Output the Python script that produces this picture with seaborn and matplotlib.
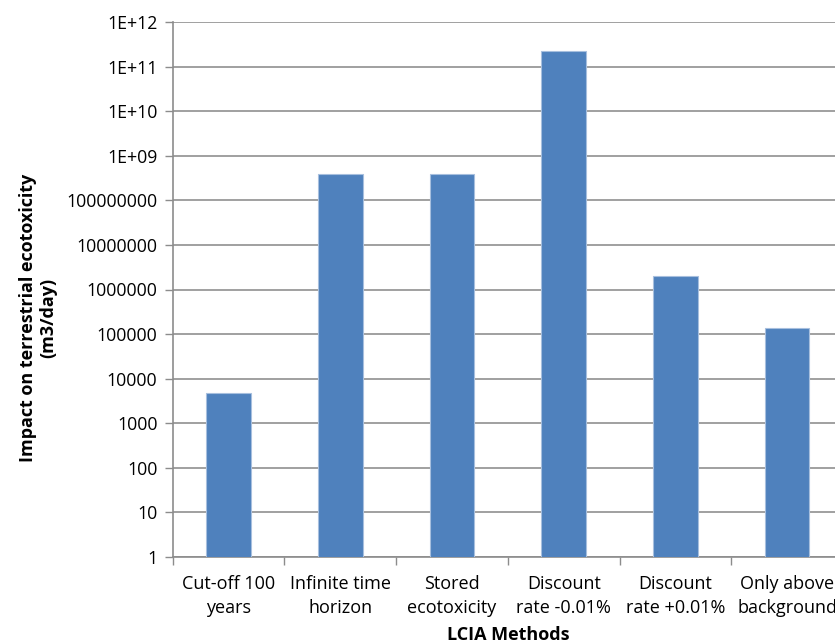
import matplotlib
matplotlib.use("Agg")
import matplotlib.pyplot as plt
import seaborn as sns
import pandas as pd
import numpy as np
from matplotlib.ticker import FixedLocator, FixedFormatter, NullFormatter

categories = ["Cut-off 100\nyears", "Infinite time\nhorizon", "Stored\necotoxicity",
              "Discount\nrate -0.01%", "Discount\nrate +0.01%", "Only above\nbackground"]
values = [4700, 3.8e8, 3.8e8, 2.2e11, 2.05e6, 1.34e5]
ytick_values = [1, 10, 100, 1000, 1e4, 1e5, 1e6, 1e7, 1e8, 1e9, 1e10, 1e11, 1e12]
ytick_labels = ["1", "10", "100", "1000", "10000", "100000", "1000000", "10000000",
                "100000000", "1E+09", "1E+10", "1E+11", "1E+12"]
xlabel = "LCIA Methods"
ylabel = "Impact on terrestrial ecotoxicity\n(m3/day)"

sns.set_theme(style="white")
plt.rcParams["font.family"] = ["Open Sans", "DejaVu Sans"]

df = pd.DataFrame({"method": categories, "value": values})

fig = plt.figure(figsize=(8.35, 6.42), dpi=100)
ax = fig.add_axes([172.7 / 835, 1 - 557 / 642, (843 - 172.7) / 835, (557 - 22) / 642])

sns.barplot(data=df, x="method", y="value", ax=ax, color="#4F81BD", saturation=1,
            width=0.4, edgecolor="#A7BFDE", linewidth=0.8, zorder=3)
ax.set_yscale("log")
ax.set_ylim(1, 1e12)
ax.set_xlim(-0.5, len(categories) - 0.5)

ax.yaxis.set_major_locator(FixedLocator(ytick_values))
ax.yaxis.set_major_formatter(FixedFormatter(ytick_labels))
ax.yaxis.set_minor_locator(FixedLocator([]))
ax.grid(axis="y", which="major", color="#989898", linewidth=1.3, zorder=0)
ax.set_axisbelow(True)

ax.set_xticks(range(len(categories)))
ax.set_xticklabels(categories, linespacing=1.45)
ax.set_xticks(np.arange(-0.5, len(categories), 1.0), minor=True)
ax.xaxis.set_minor_formatter(NullFormatter())
ax.tick_params(axis="x", which="major", length=0, pad=13, labelsize=13, labelcolor="black")
ax.tick_params(axis="x", which="minor", length=6, width=1, color="#8C8C8C", bottom=True)
ax.tick_params(axis="y", which="major", length=6, width=1, color="#8C8C8C", pad=5,
               labelsize=12.8, labelcolor="black", left=True)

for s in ["top", "right"]:
    ax.spines[s].set_visible(False)
for s in ["left", "bottom"]:
    ax.spines[s].set_color("#8C8C8C")
    ax.spines[s].set_linewidth(1.2)

ax.set_xlabel(xlabel, fontsize=13, fontweight="bold", color="black", labelpad=6)
ax.set_ylabel(ylabel, fontsize=13, fontweight="bold", color="black", linespacing=1.15)
ax.yaxis.set_label_coords((57 - 172.7) / 670.3, (557 - 318) / 535)

fig.savefig("out.png", dpi=100)
